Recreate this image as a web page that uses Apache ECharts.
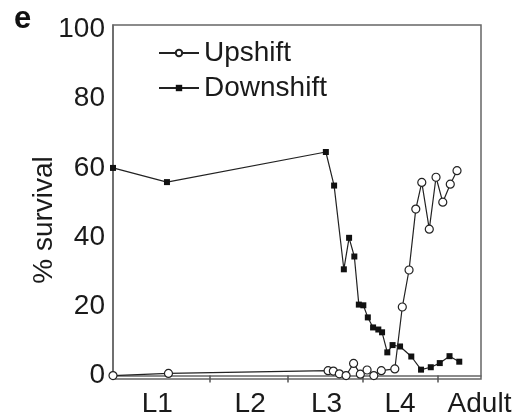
<!DOCTYPE html>
<html>
<head>
<meta charset="utf-8">
<script src="https://cdn.jsdelivr.net/npm/echarts@6/dist/echarts.min.js"></script>
<style>
html,body{margin:0;padding:0;background:#fff;}
#chart{width:515px;height:418px;}
</style>
</head>
<body>
<div id="chart"></div>
<script>
// Time axis (arbitrary developmental time units)
const upX = [0, 7.4, 28.7, 29.4, 30.2, 31.1, 32.1, 33.0, 33.9, 34.8, 35.8, 37.6, 38.6, 39.5, 40.4, 41.2, 42.2, 43.1, 44.0, 45.0, 45.9];
const upY = [0, 0.6, 1.4, 1.3, 0.5, 0, 3.5, 0.4, 1.6, 0, 1.4, 1.9, 19.8, 30.5, 48.1, 55.8, 42.3, 57.3, 50.1, 55.3, 59.2];
const downX = [0, 7.2, 28.4, 29.5, 30.8, 31.5, 32.2, 32.8, 33.4, 34.0, 34.7, 35.4, 35.9, 36.6, 37.3, 38.3, 39.8, 41.1, 42.4, 43.6, 44.9, 46.2];
const downY = [60, 55.9, 64.6, 54.9, 30.7, 39.8, 34.4, 20.5, 20.3, 16.8, 13.9, 13.3, 12.5, 6.7, 8.8, 8.4, 5.5, 1.7, 2.4, 3.6, 5.6, 4.0];
const stageBoundaries = [12.93, 23.33, 33.33, 43.33];
const stageLabelPos = [5.9, 18.3, 28.5, 38.3, 48.9];
const stageLabels = ['L1', 'L2', 'L3', 'L4', 'Adult'];
const yTicks = [0, 20, 40, 60, 80, 100];

const FONT = '"Liberation Sans", Arial, Helvetica, sans-serif';
const ink = '#1a1a1a';
const chart = echarts.init(document.getElementById('chart'), null, {renderer: 'canvas'});
const zip = (xs, ys) => xs.map((x, i) => [x, ys[i]]);

chart.setOption({
  animation: false,
  backgroundColor: '#fff',
  title: {
    text: 'e', left: 9, top: -1,
    textStyle: {fontFamily: FONT, fontWeight: 'bold', fontSize: 31, color: '#111'}
  },
  grid: {left: 113, right: 34, top: 25, bottom: 38, show: true, borderColor: '#666', borderWidth: 1.5, backgroundColor: 'transparent'},
  legend: {
    orient: 'vertical', left: 153, top: 34, itemGap: 7,
    itemWidth: 40, itemHeight: 8,
    textStyle: {fontFamily: FONT, fontSize: 28, color: ink},
    data: ['Upshift', 'Downshift']
  },
  xAxis: {
    type: 'value', min: 0, max: 49.1,
    axisLine: {show: true, lineStyle: {color: '#666', width: 1.5}},
    splitLine: {show: false},
    axisTick: {show: true, customValues: stageBoundaries, length: 7, inside: false, lineStyle: {color: '#555', width: 1.5}},
    axisLabel: {
      customValues: stageLabelPos,
      formatter: (v) => { const i = stageLabelPos.indexOf(v); return i >= 0 ? stageLabels[i] : ''; },
      fontFamily: FONT, fontSize: 28, color: ink, margin: 11, showMinLabel: true, showMaxLabel: true
    }
  },
  yAxis: {
    type: 'value', min: -1.0, max: 101.3,
    name: '% survival', nameLocation: 'middle', nameGap: 55, nameMoveOverlap: false,
    nameTextStyle: {fontFamily: FONT, fontSize: 28, color: ink, padding: [0, 36, 0, 0]},
    axisLine: {show: true, lineStyle: {color: '#666', width: 1.5}},
    splitLine: {show: false},
    axisTick: {show: false},
    axisLabel: {customValues: yTicks, fontFamily: FONT, fontSize: 28, color: ink, margin: 8}
  },
  series: [
    {
      name: 'Upshift', type: 'line', data: zip(upX, upY),
      symbol: 'circle', symbolSize: 8,
      lineStyle: {color: '#222', width: 1.2},
      itemStyle: {color: '#fff', borderColor: '#222', borderWidth: 1.2},
      z: 3
    },
    {
      name: 'Downshift', type: 'line', data: zip(downX, downY),
      symbol: 'rect', symbolSize: 6,
      lineStyle: {color: '#222', width: 1.2},
      itemStyle: {color: '#111', borderColor: '#111', borderWidth: 0},
      z: 2
    }
  ]
});
</script>
</body>
</html>
